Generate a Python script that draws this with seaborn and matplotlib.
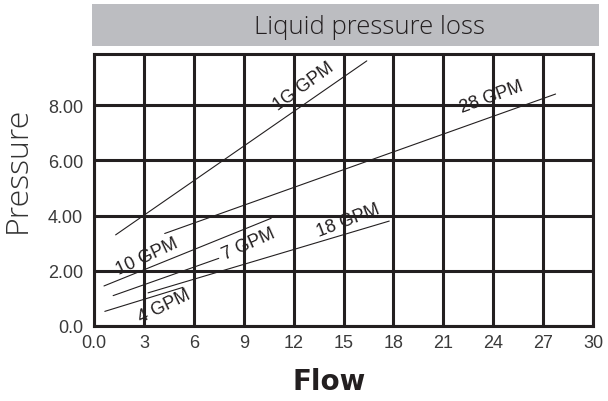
import numpy as np
import pandas as pd
import matplotlib
matplotlib.use('Agg')
import matplotlib.pyplot as plt
from matplotlib.patches import Rectangle
import seaborn as sns

# Data: one straight segment per flow rate
series = ["1G GPM", "28 GPM", "10 GPM", "7 GPM", "18 GPM", "4 GPM"]
x_start = [1.3, 4.25, 0.6, 1.15, 3.25, 0.65]
y_start = [3.3, 3.35, 1.45, 1.1, 1.2, 0.53]
x_end = [16.4, 27.75, 10.65, 7.5, 17.75, 5.35]
y_end = [9.6, 8.4, 3.9, 2.45, 3.8, 1.4]

# label placement for each series
label_x = [12.6, 23.9, 3.2, 9.3, 15.3, 4.25]
label_y = [8.7, 8.3, 2.55, 3.0, 3.85, 0.72]
label_rot = [36, 20, 25, 24, 21, 26]

x_ticks = [0, 3, 6, 9, 12, 15, 18, 21, 24, 27, 30]
x_ticklabels = ["0.0", "3", "6", "9", "12", "15", "18", "21", "24", "27", "30"]
y_ticks = [0, 2, 4, 6, 8]
y_ticklabels = ["0.0", "2.00", "4.00", "6.00", "8.00"]

df = pd.DataFrame({
    "series": np.repeat(series, 2),
    "flow": np.ravel(np.column_stack([x_start, x_end])),
    "pressure": np.ravel(np.column_stack([y_start, y_end])),
})

sns.set_theme(style="white")
plt.rcParams['font.family'] = ['Liberation Sans', 'DejaVu Sans']

fig = plt.figure(figsize=(6.08, 4.02), dpi=100)
ax = fig.add_axes([94 / 608, 1 - 327 / 402, 499 / 608, 272 / 402])

grid_col = '#231f20'
for s in series:
    sub = df[df["series"] == s]
    sns.lineplot(data=sub, x="flow", y="pressure", ax=ax, color=grid_col,
                 linewidth=0.8, estimator=None, sort=False, zorder=3)

for name, lx, ly, rot in zip(series, label_x, label_y, label_rot):
    ax.text(lx, ly, name, rotation=rot, ha='center', va='center',
            fontsize=13, color=grid_col, zorder=4)

ax.set_xlim(0, 30)
ax.set_ylim(0, 9.85)
ax.set_xticks(x_ticks)
ax.set_xticklabels(x_ticklabels)
ax.set_yticks(y_ticks)
ax.set_yticklabels(y_ticklabels)
ax.tick_params(axis='both', length=0, labelsize=13, labelcolor='#3a3a3a')
ax.tick_params(axis='x', pad=6)
ax.tick_params(axis='y', pad=8)
ax.grid(True, color=grid_col, linewidth=2.2)
ax.set_axisbelow(True)
for sp in ax.spines.values():
    sp.set_color(grid_col)
    sp.set_linewidth(2.2)
ax.set_xlabel("")
ax.set_ylabel("")

# title band
fig.patches.append(Rectangle((92 / 608, 1 - 47 / 402), 507 / 608, 42 / 402,
                             transform=fig.transFigure, facecolor='#bcbdc1',
                             edgecolor='none', zorder=0))
fig.text(369 / 608, 1 - 28 / 402, "Liquid pressure loss", ha='center', va='center',
         fontsize=18.5, color='#231f20', family=['Open Sans', 'DejaVu Sans'],
         weight='light')

fig.text(18 / 608, 1 - 170 / 402, "Pressure", rotation=90, ha='center', va='center',
         fontsize=23, color='#333333', family=['Open Sans', 'DejaVu Sans'],
         weight='light')
fig.text(329 / 608, 1 - 382 / 402, "Flow", ha='center', va='center',
         fontsize=20, color='#231f20', weight='bold', family=['DejaVu Sans'])

fig.savefig('out.png', dpi=100)
